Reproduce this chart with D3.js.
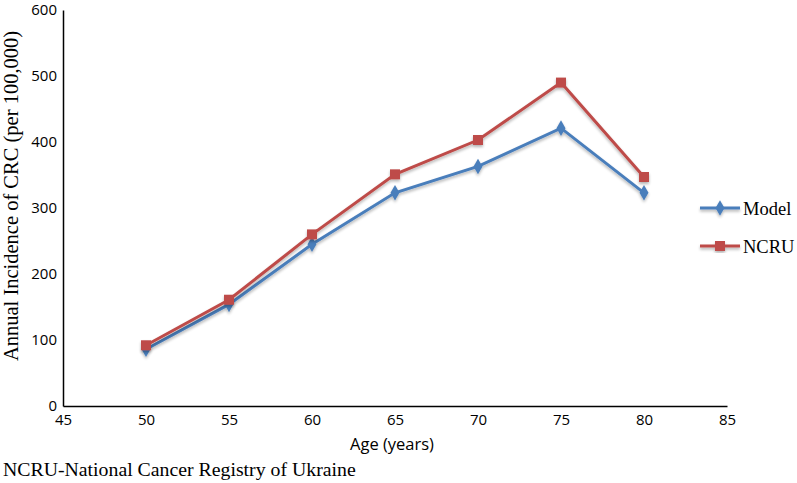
<!DOCTYPE html>
<html><head><meta charset="utf-8">
<script src="https://cdn.jsdelivr.net/npm/d3@7"></script>
<style>body{margin:0;background:#fff}</style>
</head><body>
<svg id="c" width="797" height="483"></svg>
<script>
const ages = [50, 55, 60, 65, 70, 75, 80];
const modelValues = [86, 154, 245, 323, 363, 421, 323];
const ncruValues = [92, 161, 260, 351, 403, 490, 347];
const xTicks = [45, 50, 55, 60, 65, 70, 75, 80, 85];
const yTicks = [0, 100, 200, 300, 400, 500, 600];
const seriesNames = ["Model", "NCRU"];
const seriesColors = ["#4A7EBB", "#BE4B48"];

const svg = d3.select("#c");
const x = d3.scaleLinear().domain([45, 85]).range([63, 727]);
const y = d3.scaleLinear().domain([0, 600]).range([406, 10]);

const defs = svg.append("defs");
const f = defs.append("filter").attr("id","sh").attr("x","-20%").attr("y","-20%").attr("width","140%").attr("height","140%");
f.append("feGaussianBlur").attr("in","SourceAlpha").attr("stdDeviation",1.5).attr("result","b");
f.append("feOffset").attr("in","b").attr("dx",0).attr("dy",2).attr("result","o");
f.append("feComponentTransfer").attr("in","o").attr("result","o2").append("feFuncA").attr("type","linear").attr("slope",0.3);
const m = f.append("feMerge"); m.append("feMergeNode").attr("in","o2"); m.append("feMergeNode").attr("in","SourceGraphic");

// axes
const xAxis = d3.axisBottom(x).tickValues(xTicks).tickSize(0).tickPadding(6);
const yAxis = d3.axisLeft(y).tickValues(yTicks).tickSize(0).tickPadding(6);
const gx = svg.append("g").attr("transform","translate(0,406)").call(xAxis);
const gy = svg.append("g").attr("transform","translate(63,0)").call(yAxis);
[gx, gy].forEach(g => {
  g.select(".domain").attr("stroke","#000").attr("stroke-width",1.5);
  g.selectAll("text").attr("font-family","'Open Sans', sans-serif").attr("font-size",15).attr("fill","#000");
});
gx.selectAll("text").attr("dy","0.85em");

svg.append("text").attr("x",392).attr("y",450).attr("text-anchor","middle")
  .attr("font-family","'Open Sans', sans-serif").attr("font-size",16.5).text("Age (years)");
svg.append("text").attr("transform","translate(18,196) rotate(-90)").attr("text-anchor","middle")
  .attr("font-family","'Liberation Serif', serif").attr("font-size",20.5).text("Annual Incidence of CRC (per 100,000)");
svg.append("text").attr("x",3).attr("y",476)
  .attr("font-family","'Liberation Serif', serif").attr("font-size",19.8).text("NCRU-National Cancer Registry of Ukraine");

const series = [modelValues, ncruValues];
const line = d3.line().x((d,i)=>x(ages[i])).y(d=>y(d));
const diamond = d3.symbol().type(d3.symbolDiamond).size(70);
const square = d3.symbol().type(d3.symbolSquare).size(100);

series.forEach((vals, s) => {
  const g = svg.append("g").attr("filter","url(#sh)");
  g.append("path").datum(vals).attr("d", line).attr("fill","none")
    .attr("stroke", seriesColors[s]).attr("stroke-width",3);
  g.selectAll("path.m").data(vals).join("path").attr("class","m")
    .attr("transform",(d,i)=>`translate(${x(ages[i])},${y(d)})`)
    .attr("d", s===0 ? diamond : square).attr("fill", seriesColors[s]);
});

// legend
seriesNames.forEach((n, s) => {
  const ly = 208 + s*38;
  const g = svg.append("g").attr("filter","url(#sh)");
  g.append("line").attr("x1",700).attr("x2",740).attr("y1",ly).attr("y2",ly)
    .attr("stroke",seriesColors[s]).attr("stroke-width",3);
  g.append("path").attr("transform",`translate(720,${ly})`).attr("d", s===0?diamond:square).attr("fill",seriesColors[s]);
  svg.append("text").attr("x",743).attr("y",ly+7).attr("font-family","'Liberation Serif', serif")
    .attr("font-size",18.5).text(n);
});
</script>
</body></html>
